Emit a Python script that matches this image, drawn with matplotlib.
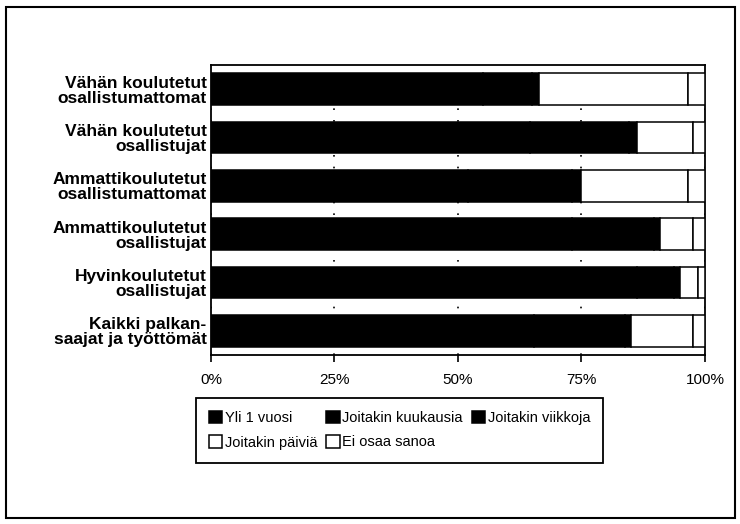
import matplotlib.pyplot as plt
from matplotlib.patches import Rectangle

plt.rcParams['font.family'] = ['Liberation Sans', 'DejaVu Sans']

ryhmat = ['Vähän koulutetut\nosallistumattomat', 'Vähän koulutetut\nosallistujat',
          'Ammattikoulutetut\nosallistumattomat', 'Ammattikoulutetut\nosallistujat',
          'Hyvinkoulutetut\nosallistujat', 'Kaikki palkan-\nsaajat ja työttömät']
yli_vuosi = [55.0, 64.6, 52.0, 73.1, 86.2, 65.4]
kuukausia = [10.0, 20.0, 21.0, 16.5, 7.5, 18.5]
viikkoja = [1.4, 1.6, 1.9, 1.3, 1.2, 1.1]
paivia = [30.2, 11.4, 21.7, 6.7, 3.7, 12.6]
ei_osaa = [3.4, 2.4, 3.4, 2.4, 1.4, 2.4]

sarjat = ['Yli 1 vuosi', 'Joitakin kuukausia', 'Joitakin viikkoja', 'Joitakin päiviä', 'Ei osaa sanoa']
arvot = [yli_vuosi, kuukausia, viikkoja, paivia, ei_osaa]
varit = ['black', 'black', 'black', 'white', 'white']

fig = plt.figure(figsize=(7.4, 5.24), dpi=100)
ax = fig.add_axes([0.285, 0.3225, 0.6676, 0.5534])

# kehys koko kuvan ympärille
fig.patches.append(Rectangle((6 / 740, 6 / 524), 729 / 740, 511 / 524, transform=fig.transFigure,
                             fill=False, edgecolor='black', linewidth=1.5))

y = list(range(len(ryhmat)))
alku = [0] * len(ryhmat)
palkit = []
for nimi, vals, vari in zip(sarjat, arvot, varit):
    p = ax.barh(y, vals, left=alku, height=0.66, color=vari, edgecolor='black',
                linewidth=1.1, label=nimi, zorder=3)
    palkit.append(p)
    alku = [a + v for a, v in zip(alku, vals)]

ax.set_xlim(0, 100)
ax.set_ylim(5.5, -0.5)
ax.set_yticks(y)
ax.set_yticklabels(ryhmat, fontsize=12.5, fontweight='bold', linespacing=1.0)
ax.tick_params(axis='y', length=0, pad=3)
ax.set_xticks([0, 25, 50, 75, 100])
ax.set_xticklabels(['0%', '25%', '50%', '75%', '100%'], fontsize=11)
ax.tick_params(axis='x', direction='out', length=5, width=1.2, pad=8)
ax.xaxis.grid(True, linestyle=(0, (1, 6)), color='black', linewidth=1.2, zorder=0)
for s in ax.spines.values():
    s.set_linewidth(1.3)

# rivit täyttyvät vaakasuunnassa kuten alkuperäisessä
jarj = [0, 3, 1, 4, 2]
leg = fig.legend([palkit[i] for i in jarj], [sarjat[i] for i in jarj], ncol=3,
                 loc='upper left', bbox_to_anchor=(196 / 740, 1 - 398 / 524), borderaxespad=0,
                 fontsize=10.5, handlelength=0.9, handleheight=0.9, handletextpad=0.2,
                 columnspacing=0.6, borderpad=0.9, labelspacing=0.7, fancybox=False,
                 edgecolor='black', framealpha=1)
leg.get_frame().set_linewidth(1.3)

fig.savefig('out.png', dpi=100)
